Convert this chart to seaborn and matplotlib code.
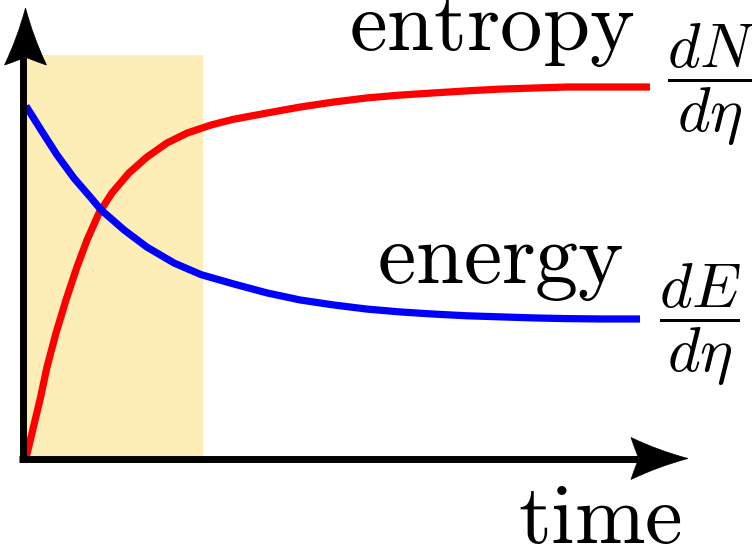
import numpy as np
import pandas as pd
import matplotlib
matplotlib.use("Agg")
import matplotlib.pyplot as plt
from matplotlib.path import Path
from matplotlib.patches import PathPatch
import seaborn as sns

# ---- data (arbitrary schematic units) ----
entropy_time = [0.0, 0.096, 0.224, 0.337, 0.481, 0.641, 0.817, 0.978, 1.170, 1.378,
                1.651, 1.939, 2.260, 2.580, 2.965, 3.317, 3.862, 4.391, 4.920, 5.465,
                5.994, 6.522, 7.067, 7.596, 8.125, 8.670, 9.199, 10.0]
entropy_value = [0.0, 0.071, 0.165, 0.259, 0.355, 0.449, 0.543, 0.619, 0.696, 0.753,
                 0.810, 0.855, 0.895, 0.923, 0.946, 0.962, 0.980, 0.997, 1.011, 1.023,
                 1.031, 1.037, 1.043, 1.048, 1.051, 1.054, 1.054, 1.054]
energy_time = [0.0, 0.240, 0.497, 0.769, 1.042, 1.202, 1.571, 1.939, 2.372, 2.804,
               3.317, 3.862, 4.391, 4.920, 5.465, 5.994, 6.522, 7.067, 7.596, 8.125,
               8.670, 9.199, 9.840]
energy_value = [1.0, 0.932, 0.861, 0.795, 0.739, 0.705, 0.648, 0.599, 0.554, 0.521,
                0.495, 0.469, 0.449, 0.435, 0.423, 0.415, 0.409, 0.404, 0.401, 0.398,
                0.396, 0.395, 0.395]
series_names = ["entropy", "energy"]
series_colors = ["#ff0000", "#0000ff"]
shade_time = [0.0, 2.837]
shade_top = 1.145
labels = [r"$\mathrm{entropy}$", r"$\mathrm{energy}$", r"$\mathrm{time}$"]
fractions = [r"$\dfrac{dN}{d\eta}$", r"$\dfrac{dE}{d\eta}$"]

df = pd.concat([
    pd.DataFrame({"time": entropy_time, "value": entropy_value, "series": series_names[0]}),
    pd.DataFrame({"time": energy_time, "value": energy_value, "series": series_names[1]}),
], ignore_index=True)

sns.set_theme(style="white")
plt.rcParams["mathtext.fontset"] = "cm"

fig = plt.figure(figsize=(7.52, 5.48), dpi=100)
ax = fig.add_axes([0, 0, 1, 1])
PX_T = 62.4   # pixels per time unit
PX_V = 352.0  # pixels per value unit
ax.set_xlim(-26 / PX_T, 726 / PX_T)
ax.set_ylim(-90 / PX_V, 458 / PX_V)
ax.axis("off")

# shaded early-time region
ax.fill_between(shade_time, 0, shade_top, color="#fdedb6", linewidth=0, zorder=1)

# curves
sns.lineplot(data=df, x="time", y="value", hue="series",
             palette=dict(zip(series_names, series_colors)),
             sort=False, estimator=None, legend=False, linewidth=5.2,
             solid_capstyle="butt", solid_joinstyle="round", ax=ax, zorder=3)

# axes lines with arrow heads
lw_axis = 5.0
ax.plot([-3.5 / PX_T, -3.5 / PX_T], [-4 / PX_V, 401 / PX_V], color="black",
        lw=lw_axis, solid_capstyle="butt", zorder=4)
ax.plot([-7 / PX_T, 612 / PX_T], [-0.5 / PX_V, -0.5 / PX_V], color="black",
        lw=lw_axis, solid_capstyle="butt", zorder=4)


def arrow_head(tip, direction):
    # local coords: a = distance back from tip (px), p = perpendicular (px)
    local = [(0, 0), (30, 8), (57, 21), (52, 6), (49, 0), (52, -6), (57, -21),
             (30, -8), (0, 0)]
    codes = [Path.MOVETO, Path.CURVE3, Path.CURVE3, Path.CURVE3, Path.CURVE3,
             Path.CURVE3, Path.CURVE3, Path.CURVE3, Path.CURVE3]
    verts = []
    for a, p in local:
        if direction == "up":
            dx, dy = p, -a
        else:
            dx, dy = -a, p
        verts.append((tip[0] + dx / PX_T, tip[1] + dy / PX_V))
    patch = PathPatch(Path(verts, codes), facecolor="black", edgecolor="black",
                      lw=0.5, zorder=5)
    ax.add_patch(patch)


arrow_head((-0.5 / PX_T, 450 / PX_V), "up")
arrow_head((662 / PX_T, -0.5 / PX_V), "right")

# labels
ax.text(466 / PX_T, 408 / PX_V, labels[0], fontsize=61, ha="center", va="baseline",
        color="black", zorder=6)
ax.text(474.5 / PX_T, 175 / PX_V, labels[1], fontsize=62, ha="center", va="baseline",
        color="black", zorder=6)
ax.text(574.5 / PX_T, -85 / PX_V, labels[2], fontsize=61, ha="center", va="baseline",
        color="black", zorder=6)
ax.text(686 / PX_T, 373.5 / PX_V, fractions[0], fontsize=45, ha="center", va="center",
        color="black", zorder=6)
ax.text(674.5 / PX_T, 133.5 / PX_V, fractions[1], fontsize=45, ha="center", va="center",
        color="black", zorder=6)

fig.savefig("out.png", dpi=100)
